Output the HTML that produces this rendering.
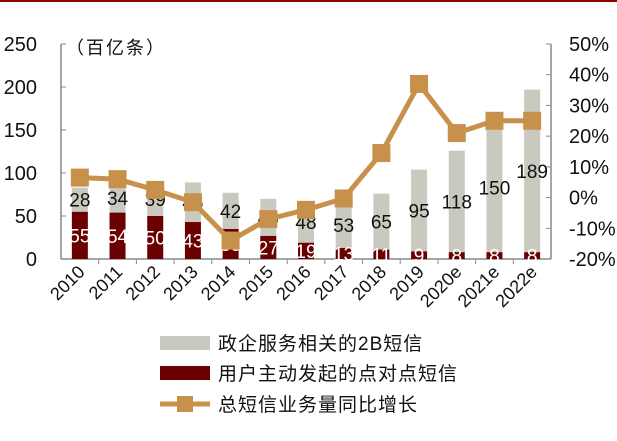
<!DOCTYPE html>
<html><head><meta charset="utf-8"><style>
body{margin:0;background:#fff}
svg text{font-family:"Liberation Sans","Noto Sans CJK SC",sans-serif}
</style></head><body>
<svg width="617" height="436" viewBox="0 0 617 436">
<rect x="0" y="0" width="617" height="2" fill="#8b0000"/>
<g id="g"></g>
</svg>
<script>
const categories=["2010","2011","2012","2013","2014","2015","2016","2017","2018","2019","2020e","2021e","2022e"];
const userSms=[55,54,50,43,35,27,19,13,11,9,8,8,8];
const bizSms=[28,34,39,46,42,43,48,53,65,95,118,150,189];
const growth=[6.5,6,2.5,-1.5,-14,-7,-4,-0.3,14.5,37,21,25,25];
const leftTicks=[0,50,100,150,200,250];
const rightTicks=[-20,-10,0,10,20,30,40,50];
const NS="http://www.w3.org/2000/svg";
const g=document.getElementById('g');
const X0=61,X1=551,Y0=259,Y1=44;
const bw=(X1-X0)/categories.length;
const xc=i=>X0+bw*(i+0.5);
const yl=v=>Y0-(v/250)*(Y0-Y1);
const yr=v=>Y0-((v+20)/70)*(Y0-Y1);
function mk(t,a,txt){const e=document.createElementNS(NS,t);for(const k in a)e.setAttribute(k,a[k]);if(txt!==undefined)e.textContent=txt;g.appendChild(e);return e;}
let e=mk('line',{x1:X0,y1:Y1,x2:X0,y2:Y0,stroke:'#888','stroke-width':1.5});


e=mk('line',{x1:X1,y1:Y1,x2:X1,y2:Y0,stroke:'#888','stroke-width':1.5});


e=mk('line',{x1:X0,y1:Y0,x2:X1,y2:Y0,stroke:'#888','stroke-width':1.5});


leftTicks.forEach(v=>{
 mk('line',{x1:X0,y1:yl(v),x2:X0+5,y2:yl(v),stroke:'#888'});
 e=mk('text',{x:37,y:yl(v)+7,'text-anchor':'end','font-size':20,fill:'#111'},v);
 
 
});
rightTicks.forEach(v=>{
 mk('line',{x1:X1-5,y1:yr(v),x2:X1,y2:yr(v),stroke:'#888'});
 e=mk('text',{x:569,y:yr(v)+7,'font-size':20,fill:'#111'},v+'%');
 
 
});
for(let i=1;i<categories.length;i++)mk('line',{x1:X0+bw*i,y1:Y0,x2:X0+bw*i,y2:Y0+5,stroke:'#888'});
e=mk('text',{x:66,y:54,'font-size':18,fill:'#111','letter-spacing':'2'},'（百亿条）');


categories.forEach((c,i)=>{
 const x=xc(i),w=16;
 e=mk('rect',{x:x-w/2,y:yl(userSms[i]),width:w,height:Y0-yl(userSms[i]),fill:'#6b0000'});
 
 
 e=mk('rect',{x:x-w/2,y:yl(userSms[i]+bizSms[i]),width:w,height:yl(userSms[i])-yl(userSms[i]+bizSms[i]),fill:'#c9c9c0'});
 
 
 e=mk('text',{x:x,y:(yl(userSms[i])+yl(userSms[i]+bizSms[i]))/2+7,'text-anchor':'middle','font-size':19,fill:'#111'},bizSms[i]);
 
 
 e=mk('text',{x:x,y:(Y0+yl(userSms[i]))/2+7,'text-anchor':'middle','font-size':19,fill:'#fff'},userSms[i]);
 
 
 e=mk('text',{x:x+6,y:Y0+14,'text-anchor':'end','font-size':18,fill:'#111',transform:`rotate(-45 ${x+6} ${Y0+14})`},c);
 
 
});
e=mk('polyline',{points:growth.map((v,i)=>xc(i)+','+yr(v)).join(' '),fill:'none',stroke:'#c8914b','stroke-width':5});


growth.forEach((v,i)=>{
 e=mk('rect',{x:xc(i)-9,y:yr(v)-9,width:18,height:18,fill:'#c8914b'});
 
 
});
const leg=[['政企服务相关的2B短信','#c9c9c0',343],['用户主动发起的点对点短信','#6b0000',373]];
leg.forEach(l=>{
 e=mk('rect',{x:160,y:l[2]-7,width:50,height:14,fill:l[1]});
 
 
 e=mk('text',{x:218,y:l[2]+7,'font-size':19,fill:'#111','letter-spacing':'1'},l[0]);
 
 
});
e=mk('line',{x1:160,y1:404,x2:210,y2:404,stroke:'#c8914b','stroke-width':5});


mk('rect',{x:177,y:396,width:16,height:16,fill:'#c8914b'});
e=mk('text',{x:218,y:411,'font-size':19,fill:'#111','letter-spacing':'1'},'总短信业务量同比增长');


</script>
</body></html>
